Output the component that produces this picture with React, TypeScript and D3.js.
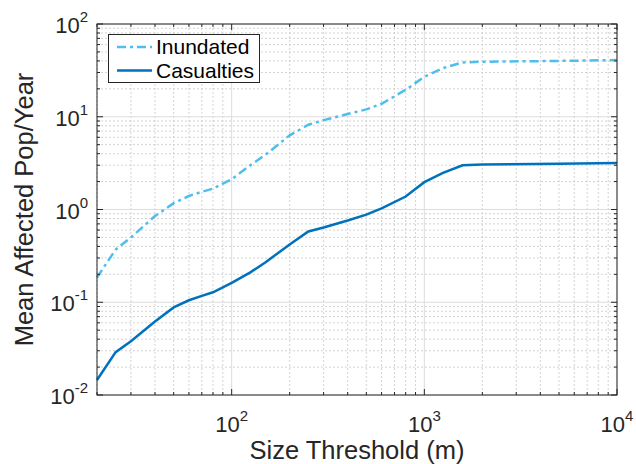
import React from "react";
import * as d3 from "d3";

const sizeThreshold = [20, 25, 30, 40, 50, 60, 70, 80, 100, 125, 150, 200, 250, 300, 400, 500, 600, 800, 1000, 1250, 1580, 2000, 5000, 10000];
const inundated = [0.185, 0.37, 0.5, 0.85, 1.17, 1.4, 1.55, 1.68, 2.12, 3.0, 3.9, 6.3, 8.2, 9.2, 10.7, 12.0, 13.8, 19.5, 27, 33.5, 38.5, 39.2, 40, 40.8];
const casualties = [0.0145, 0.029, 0.038, 0.062, 0.088, 0.105, 0.117, 0.128, 0.162, 0.21, 0.27, 0.42, 0.58, 0.64, 0.76, 0.88, 1.03, 1.38, 1.97, 2.48, 3.0, 3.05, 3.12, 3.17];
const xTickExps = [2, 3, 4];
const yTickExps = [-2, -1, 0, 1, 2];
const seriesNames = ["Inundated", "Casualties"];
const xLabel = "Size Threshold (m)";
const yLabel = "Mean Affected Pop/Year";

const W = 636, H = 464;
const L = 97, R = 617, T = 24, B = 395;
const FONT = "'Liberation Sans', Arial, Helvetica, sans-serif";
const AXC = "#262626";

export default function App() {
  const x = d3.scaleLog().domain([20, 10000]).range([L, R]);
  const y = d3.scaleLog().domain([0.01, 100]).range([B, T]);

  const xMinor: number[] = [];
  for (let e = 1; e <= 3; e++) for (let m = 2; m <= 9; m++) { const v = m * Math.pow(10, e); if (v >= 20 && v <= 10000) xMinor.push(v); }
  const yMinor: number[] = [];
  for (let e = -2; e <= 1; e++) for (let m = 2; m <= 9; m++) yMinor.push(m * Math.pow(10, e));

  const line = d3.line<number>().x((_, i) => x(sizeThreshold[i])).y((d) => y(d));
  const colors = ["#4DBEEE", "#0072BD"];
  const dash = "9,4,3,4";

  return (
    <svg width={W} height={H} style={{ position: "absolute", left: 0, top: 0, background: "#fff" }} fontFamily={FONT}>
      <rect x={0} y={0} width={W} height={H} fill="#fff" />
      {/* minor grid */}
      {xMinor.map((v) => (
        <line key={"xm" + v} x1={x(v)} x2={x(v)} y1={T} y2={B} stroke="#c8c8c8" strokeWidth={0.8} strokeDasharray="2,2" />
      ))}
      {yMinor.map((v) => (
        <line key={"ym" + v} x1={L} x2={R} y1={y(v)} y2={y(v)} stroke="#c8c8c8" strokeWidth={0.8} strokeDasharray="2,2" />
      ))}
      {/* major grid */}
      {xTickExps.map((e) => (
        <line key={"xg" + e} x1={x(Math.pow(10, e))} x2={x(Math.pow(10, e))} y1={T} y2={B} stroke="#dcdcdc" strokeWidth={1} />
      ))}
      {yTickExps.map((e) => (
        <line key={"yg" + e} x1={L} x2={R} y1={y(Math.pow(10, e))} y2={y(Math.pow(10, e))} stroke="#dcdcdc" strokeWidth={1} />
      ))}
      {/* series */}
      <path d={line(inundated) || ""} fill="none" stroke={colors[0]} strokeWidth={2.5} strokeDasharray={dash} />
      <path d={line(casualties) || ""} fill="none" stroke={colors[1]} strokeWidth={2.5} />
      {/* box */}
      <rect x={L} y={T} width={R - L} height={B - T} fill="none" stroke={AXC} strokeWidth={1} />
      {/* ticks */}
      {xTickExps.map((e) => {
        const px = x(Math.pow(10, e));
        return (
          <g key={"xt" + e}>
            <line x1={px} x2={px} y1={B} y2={B - 6} stroke={AXC} />
            <line x1={px} x2={px} y1={T} y2={T + 6} stroke={AXC} />
          </g>
        );
      })}
      {xMinor.map((v) => (
        <g key={"xmt" + v}>
          <line x1={x(v)} x2={x(v)} y1={B} y2={B - 3} stroke={AXC} />
          <line x1={x(v)} x2={x(v)} y1={T} y2={T + 3} stroke={AXC} />
        </g>
      ))}
      {yTickExps.map((e) => {
        const py = y(Math.pow(10, e));
        return (
          <g key={"yt" + e}>
            <line x1={L} x2={L + 6} y1={py} y2={py} stroke={AXC} />
            <line x1={R} x2={R - 6} y1={py} y2={py} stroke={AXC} />
          </g>
        );
      })}
      {yMinor.map((v) => (
        <g key={"ymt" + v}>
          <line x1={L} x2={L + 3} y1={y(v)} y2={y(v)} stroke={AXC} />
          <line x1={R} x2={R - 3} y1={y(v)} y2={y(v)} stroke={AXC} />
        </g>
      ))}
      {/* tick labels */}
      {xTickExps.map((e) => (
        <text key={"xl" + e} x={x(Math.pow(10, e))} y={432} textAnchor="middle" fill={AXC} fontSize={22}>
          <tspan>10</tspan>
          <tspan fontSize={15} dy={-11}>{String(e)}</tspan>
        </text>
      ))}
      {yTickExps.map((e) => (
        <text key={"yl" + e} x={88} y={y(Math.pow(10, e)) + 9} textAnchor="end" fill={AXC} fontSize={22}>
          <tspan>10</tspan>
          <tspan fontSize={15} dy={-11}>{String(e)}</tspan>
        </text>
      ))}
      {/* axis labels */}
      <text x={(L + R) / 2} y={459} textAnchor="middle" fontSize={25.5} fill={AXC}>{xLabel}</text>
      <text transform={`translate(33,${(T + B) / 2}) rotate(-90)`} textAnchor="middle" fontSize={25.5} fill={AXC}>{yLabel}</text>
      {/* legend */}
      <rect x={108.5} y={34.5} width={151} height={48} fill="#fff" stroke={AXC} strokeWidth={1} />
      {seriesNames.map((n, i) => {
        const ly = i === 0 ? 47 : 70.5;
        return (
          <g key={n}>
            <line x1={117} x2={152} y1={ly} y2={ly} stroke={colors[i]} strokeWidth={2.5} strokeDasharray={i === 0 ? dash : undefined} />
            <text x={156} y={ly + 7} fontSize={21} fill="#000">{n}</text>
          </g>
        );
      })}
    </svg>
  );
}
